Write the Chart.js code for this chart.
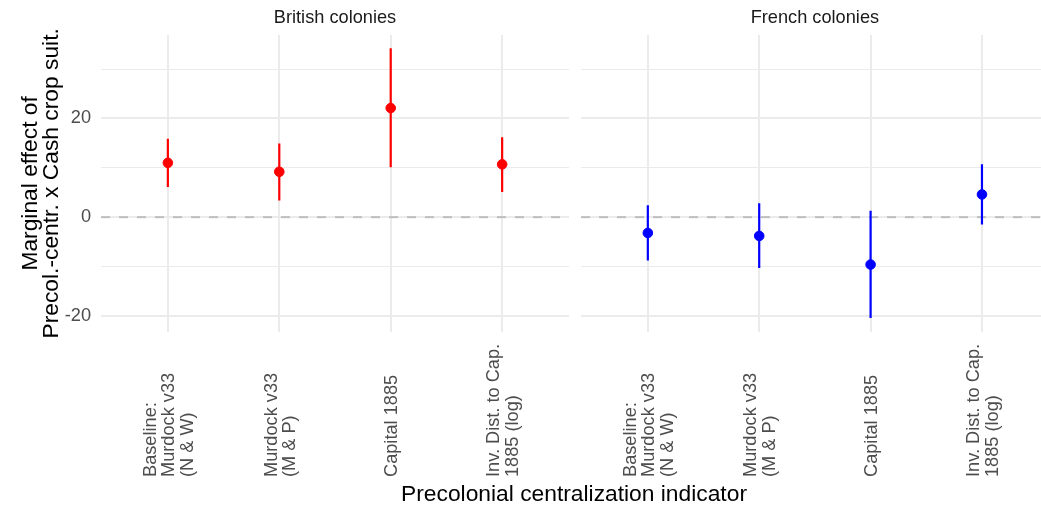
<!DOCTYPE html>
<html>
<head>
<meta charset="utf-8">
<script src="https://cdn.jsdelivr.net/npm/chart.js@4/dist/chart.umd.min.js"></script>
<style>
  html, body { margin: 0; padding: 0; background: #ffffff; }
  #wrap { position: relative; width: 1041px; height: 507px; background: #ffffff; }
  #wrap canvas { position: absolute; left: 0; top: 0; }
</style>
</head>
<body>
<div id="wrap">
  <canvas id="british" width="1041" height="507"></canvas>
  <canvas id="french" width="1041" height="507"></canvas>
</div>
<script>
// Centralization indicators (one multi-line label per category)
const categoryLabels = [
  ['Baseline:', 'Murdock v33', '(N & W)'],
  ['Murdock v33', '(M & P)'],
  ['Capital 1885'],
  ['Inv. Dist. to Cap.', '1885 (log)']
];
const categoryPositions = [0, 1, 2, 3];

const panelTitles = ['British colonies', 'French colonies'];

// Marginal effects with confidence bounds
const britishEstimate = [11.0, 9.2, 22.1, 10.7];
const britishLower    = [6.1, 3.4, 10.1, 5.1];
const britishUpper    = [15.9, 14.9, 34.2, 16.2];

const frenchEstimate  = [-3.2, -3.8, -9.6, 4.6];
const frenchLower     = [-8.8, -10.3, -20.4, -1.5];
const frenchUpper     = [2.4, 2.8, 1.3, 10.7];

// Axis settings
const yGridValues  = [-20, -10, 0, 10, 20, 30];
const yLabelValues = [-20, 0, 20];
const yMin = -23.2, yMax = 36.9;
const referenceLine = 0;

const yTitleLines = ['Marginal effect of', 'Precol.-centr. x Cash crop suit.'];
const xTitle = 'Precolonial centralization indicator';

const FONT = "'Liberation Sans', Arial, Helvetica, sans-serif";
const TICK_FONT_SIZE = 18.2;
const TITLE_FONT_SIZE = 22.8;
const LABEL_LINE_STEP = 18.5;

// Text decorations: strip title, rotated category labels, axis titles
const facetText = {
  id: 'facetText',
  afterDraw(chart, args, opts) {
    const ctx = chart.ctx;
    const xs = chart.scales.x;
    const area = chart.chartArea;
    ctx.save();

    // strip title
    ctx.fillStyle = '#1a1a1a';
    ctx.font = TICK_FONT_SIZE + 'px ' + FONT;
    ctx.textAlign = 'center';
    ctx.textBaseline = 'alphabetic';
    const mid = (categoryPositions[0] + categoryPositions[categoryPositions.length - 1]) / 2;
    ctx.fillText(opts.title, xs.getPixelForValue(mid), 23.3);

    // category labels, rotated, starting from a common bottom line
    ctx.fillStyle = '#4d4d4d';
    ctx.textAlign = 'left';
    categoryLabels.forEach((lines, i) => {
      const px = xs.getPixelForValue(categoryPositions[i]);
      lines.forEach((line, j) => {
        const bx = px + (j - (lines.length - 1) / 2) * LABEL_LINE_STEP + 6.5;
        ctx.save();
        ctx.translate(bx, 477);
        ctx.rotate(-Math.PI / 2);
        ctx.fillText(line, 0, 0);
        ctx.restore();
      });
    });

    if (opts.axisTitles) {
      ctx.fillStyle = '#000000';
      ctx.font = TITLE_FONT_SIZE + 'px ' + FONT;
      ctx.textAlign = 'center';
      const cy = (area.top + area.bottom) / 2;
      const baselines = [37, 57.5];
      yTitleLines.forEach((line, j) => {
        ctx.save();
        ctx.translate(baselines[j], cy);
        ctx.rotate(-Math.PI / 2);
        ctx.fillText(line, 0, 0);
        ctx.restore();
      });
      ctx.fillText(xTitle, 574, 501);
    }
    ctx.restore();
  }
};

function makePanel(canvasId, title, estimate, lower, upper, color, xMax, padding, showYLabels) {
  const points = estimate.map((v, i) => ({ x: categoryPositions[i], y: v }));
  const ranges = [];
  lower.forEach((lo, i) => {
    ranges.push({ x: categoryPositions[i], y: lo });
    ranges.push({ x: categoryPositions[i], y: upper[i] });
    ranges.push({ x: categoryPositions[i], y: null });
  });
  const zeroLine = [{ x: -0.6, y: referenceLine }, { x: xMax, y: referenceLine }];

  return new Chart(document.getElementById(canvasId), {
    type: 'scatter',
    data: {
      datasets: [
        {
          type: 'scatter',
          data: points,
          pointRadius: 4.8,
          pointBackgroundColor: color,
          pointBorderColor: color,
          pointBorderWidth: 1
        },
        {
          type: 'line',
          data: ranges,
          borderColor: color,
          borderWidth: 2.2,
          borderCapStyle: 'butt',
          pointRadius: 0,
          spanGaps: false,
          fill: false
        },
        {
          type: 'line',
          data: zeroLine,
          borderColor: '#bebebe',
          borderWidth: 2,
          borderDash: [9, 9],
          pointRadius: 0,
          fill: false
        }
      ]
    },
    options: {
      responsive: false,
      animation: false,
      events: [],
      layout: { padding: padding, autoPadding: false },
      plugins: {
        legend: { display: false },
        tooltip: { enabled: false },
        facetText: { title: title, axisTitles: showYLabels }
      },
      scales: {
        x: {
          type: 'linear',
          min: -0.6,
          max: xMax,
          offset: false,
          afterBuildTicks: s => { s.ticks = categoryPositions.map(v => ({ value: v })); },
          afterFit: s => { s.height = 0; },
          ticks: { display: false },
          grid: { color: '#ebebeb', lineWidth: 2, drawTicks: false, offset: false },
          border: { display: false }
        },
        y: {
          type: 'linear',
          min: yMin,
          max: yMax,
          afterBuildTicks: s => { s.ticks = yGridValues.map(v => ({ value: v })); },
          afterFit: s => { s.width = showYLabels ? 101 : 0; },
          ticks: {
            display: showYLabels,
            padding: 10,
            color: '#4d4d4d',
            font: { family: FONT, size: TICK_FONT_SIZE },
            callback: v => (yLabelValues.includes(v) ? String(v) : '')
          },
          grid: {
            color: '#ebebeb',
            lineWidth: c => (c.tick && yLabelValues.includes(c.tick.value) ? 2 : 1),
            drawTicks: false
          },
          border: { display: false }
        }
      }
    },
    plugins: [facetText]
  });
}

makePanel('british', panelTitles[0], britishEstimate, britishLower, britishUpper,
  '#ff0000', 3.6, { left: 0, right: 472, top: 35, bottom: 175.3 }, true);
makePanel('french', panelTitles[1], frenchEstimate, frenchLower, frenchUpper,
  '#0000ff', 3.53, { left: 581, right: 0, top: 35, bottom: 175.3 }, false);
</script>
</body>
</html>
